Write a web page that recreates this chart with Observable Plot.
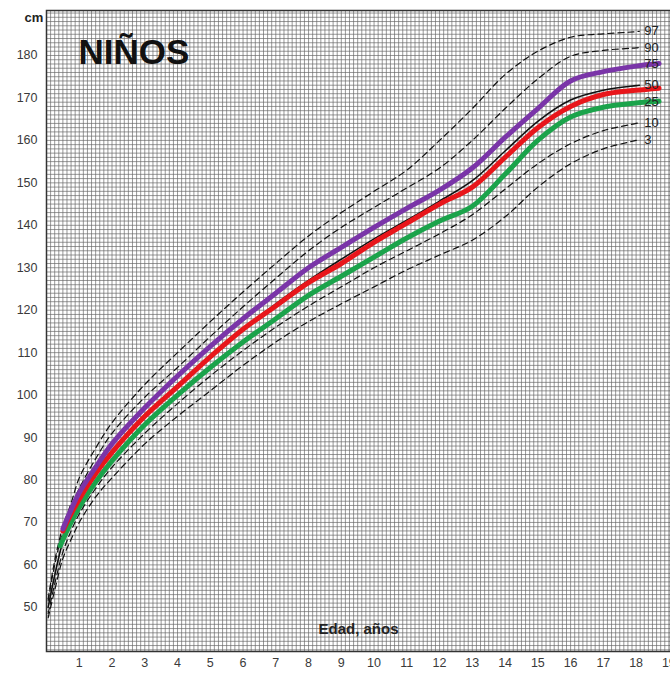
<!DOCTYPE html>
<html>
<head>
<meta charset="utf-8">
<script src="https://cdn.jsdelivr.net/npm/d3@7"></script>
<script src="https://cdn.jsdelivr.net/npm/@observablehq/plot@0.6"></script>
<style>
  body { margin: 0; background: #fff; }
  #chart svg { display: block; font-family: "Liberation Sans", Arial, sans-serif; }
</style>
</head>
<body>
<div id="chart"></div>
<script>
// ---- Data ----
const title = "NIÑOS";
const yUnit = "cm";
const xTitle = "Edad, años";

// Standard percentile curves (black)
const stdAges = [0.05, 0.25, 0.5, 0.75, 1, 1.5, 2, 3, 4, 5, 6, 7, 8, 9, 10, 11, 12, 13, 14, 15, 16, 17, 18, 18.1];
const p97 = [52, 61, 69, 74.5, 80.5, 87.5, 93.5, 102.5, 110, 117.3, 124.3, 131, 137.5, 143, 148, 153, 160, 167.5, 175.5, 181, 184.3, 185.1, 185.6, 185.7];
const p90 = [51.5, 60, 68, 73.5, 78, 85, 91, 99.5, 106.5, 113.8, 120.8, 127.5, 134, 139.5, 144.2, 148.8, 153.5, 160, 167.5, 174.5, 179.8, 181.2, 181.8, 181.9];
const p50 = [50, 57.5, 65.5, 70.5, 75, 81, 86.5, 95, 102, 109, 115.5, 121.5, 127, 132, 136.8, 141.2, 145.7, 150.5, 157.5, 164.5, 169.5, 171.8, 172.9, 173];
const p10 = [48.5, 55.5, 63, 68, 72, 78, 83, 91, 98, 104.5, 110.5, 116, 121, 125.5, 130, 134, 138, 142.5, 148.5, 154.5, 159.2, 162.3, 164, 164.2];
const p3  = [47.5, 54, 61.5, 66, 70, 76, 80.5, 88.5, 95, 101, 107, 112.5, 117.3, 121.5, 125.5, 129.5, 133, 136.5, 142, 149, 154.5, 158, 160, 160.2];

// Coloured curves
const colAges = [0.5, 0.75, 1, 1.5, 2, 3, 4, 5, 6, 7, 8, 9, 10, 11, 12, 13, 14, 15, 16, 17, 18, 18.7];
const purpleVals = [68.5, 73, 77, 83, 88.5, 97, 104.5, 111.5, 118, 124, 130, 134.8, 139.5, 144, 148.3, 153.5, 160.7, 167.5, 174, 176.2, 177.5, 178.1];
const redVals    = [68, 72, 75.5, 81.5, 86.5, 95, 102, 109, 115.5, 121, 126.5, 131, 136, 140.5, 145, 149, 156, 163, 168, 170.8, 171.8, 172.3];
const greenAges  = [0.42, 0.75, 1, 1.5, 2, 3, 4, 5, 6, 7, 8, 9, 10, 11, 12, 13, 14, 15, 16, 17, 18, 18.7];
const greenVals  = [64.5, 70, 73.5, 79.5, 84.5, 93, 100, 106.5, 112.5, 118, 123.5, 128, 132.5, 137, 141, 144.5, 152, 160, 165.5, 167.8, 168.8, 169.2];

const percentileLabels = ["97", "90", "75", "50", "25", "10", "3"];
const yTickValues = [50, 60, 70, 80, 90, 100, 110, 120, 130, 140, 150, 160, 170, 180];
const xTickValues = [1, 2, 3, 4, 5, 6, 7, 8, 9, 10, 11, 12, 13, 14, 15, 16, 17, 18, 19];

// ---- Build tables ----
const toRows = (ages, vals) => ages.map((a, i) => ({age: a, v: vals[i]}));
const dashed = [p97, p90, p10, p3].map(vals => toRows(stdAges, vals));
const median = toRows(stdAges, p50);
const purple = toRows(colAges, purpleVals);
const red = toRows(colAges, redVals);
const green = toRows(greenAges, greenVals);

const last = a => a[a.length - 1];
const labelEnds = [last(p97), last(p90), last(purpleVals), last(p50), last(greenVals), last(p10), last(p3)];
const labelRows = percentileLabels.map((t, i) => ({t, v: labelEnds[i]}));

const xDomain = [0, 19.05];
const yDomain = [39.6, 190.6];
const gridX = d3.range(0, 19.06, 1 / 8);
const gridY = d3.range(40, 191, 1);

const chart = Plot.plot({
  width: 670,
  height: 676,
  marginLeft: 46,
  marginRight: 0,
  marginTop: 10,
  marginBottom: 25,
  style: {fontFamily: "Liberation Sans, Arial, sans-serif", fontSize: "12.5px", color: "#3a3a3a", background: "#fff"},
  x: {domain: xDomain, ticks: xTickValues, tickSize: 0, tickPadding: 7, label: null},
  y: {domain: yDomain, ticks: yTickValues, tickSize: 0, tickPadding: 9, label: null},
  marks: [
    Plot.ruleY(gridY, {stroke: "#666", strokeWidth: 0.8, strokeOpacity: 0.85}),
    Plot.ruleX(gridX, {stroke: "#666", strokeWidth: 0.8, strokeOpacity: 0.85}),
    ...dashed.map(d => Plot.line(d, {x: "age", y: "v", stroke: "#111", strokeWidth: 1.2, strokeDasharray: "6,4", curve: "catmull-rom"})),
    Plot.line(median, {x: "age", y: "v", stroke: "#111", strokeWidth: 1.6, curve: "catmull-rom"}),
    Plot.line(green, {x: "age", y: "v", stroke: "#1ba34b", strokeWidth: 5, curve: "catmull-rom"}),
    Plot.line(red, {x: "age", y: "v", stroke: "#e8161b", strokeWidth: 5, curve: "catmull-rom"}),
    Plot.line(purple, {x: "age", y: "v", stroke: "#7a35a8", strokeWidth: 5, curve: "catmull-rom"}),
    Plot.text(labelRows, {x: () => 18.25, y: "v", text: "t", textAnchor: "start", fontSize: 13, fill: "#222"}),
    Plot.text([title], {frameAnchor: "top-left", dx: 32, dy: 42, textAnchor: "start", fontSize: 35, fontWeight: "bold", fill: "#111", lineAnchor: "middle"}),
    Plot.text([xTitle], {frameAnchor: "bottom", dy: -18, fontSize: 15, fontWeight: "bold", fill: "#222"}),
    Plot.text([yUnit], {frameAnchor: "top-left", dx: -22, dy: 2, fontSize: 13, fontWeight: "bold", fill: "#222"}),
    Plot.frame({stroke: "#333", strokeWidth: 1.5})
  ]
});
document.getElementById("chart").appendChild(chart);
</script>
</body>
</html>
